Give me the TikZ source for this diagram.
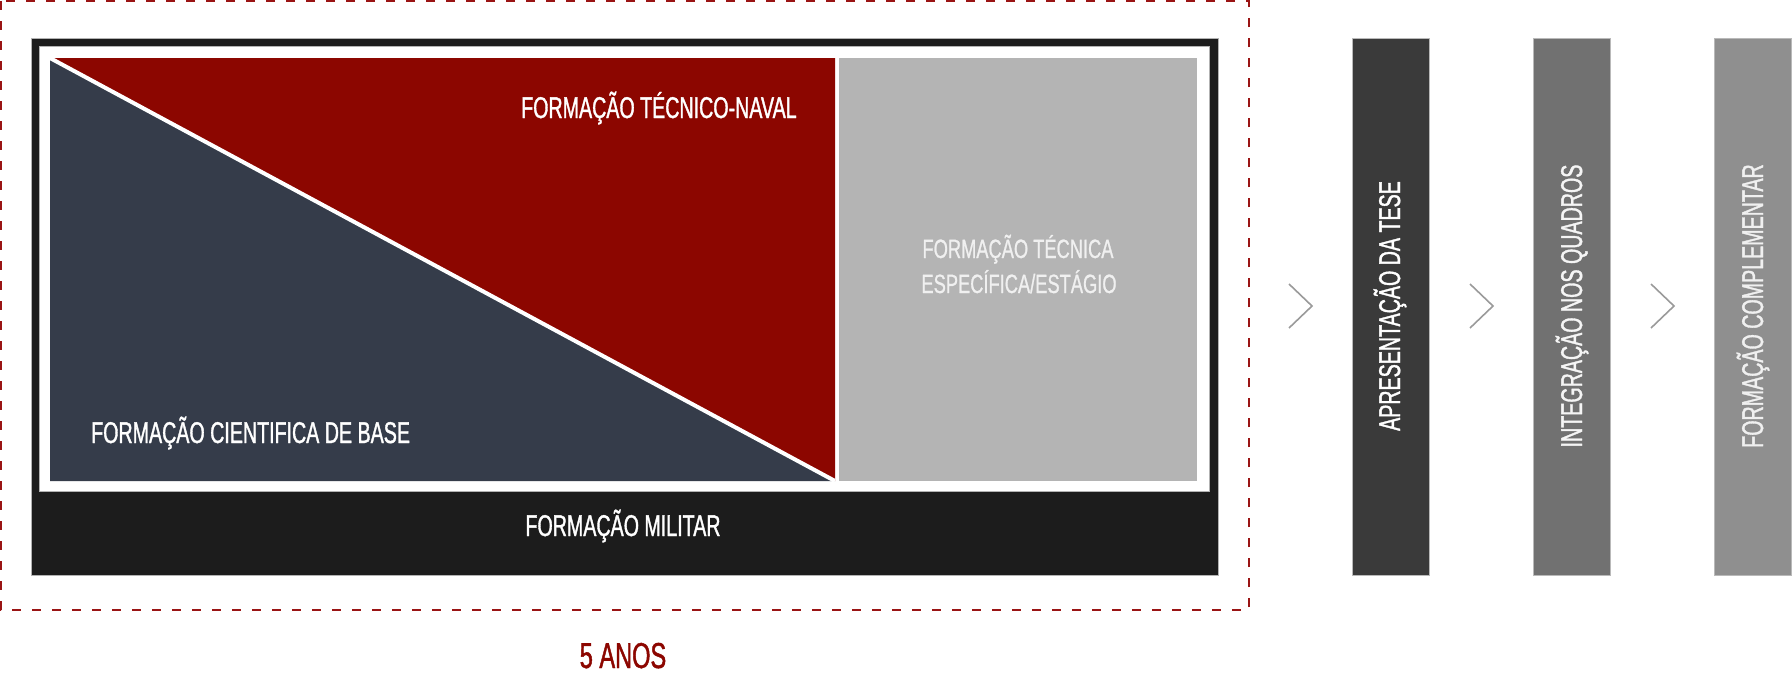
\documentclass[tikz,border=0pt]{standalone}
\usepackage{fontspec}
\newfontfamily\cond[FakeStretch=0.655,FakeBold=1.2]{Liberation Sans}
\newfontfamily\condg[FakeStretch=0.69,FakeBold=0.9]{Liberation Sans}
\definecolor{navred}{HTML}{8C0600}
\definecolor{dashred}{HTML}{9A1414}
\definecolor{slate}{HTML}{353C4A}
\definecolor{techgray}{HTML}{B4B4B4}
\definecolor{milblack}{HTML}{1C1C1C}
\definecolor{barA}{HTML}{3A3A3A}
\definecolor{barB}{HTML}{717171}
\definecolor{barC}{HTML}{8F8F8F}
\definecolor{chev}{HTML}{9A9A9A}
\tikzset{
  lbl/.style={text=white, inner sep=0pt, font=\cond\fontsize{30}{36}\selectfont},
  glbl/.style={text=white!94!black, inner sep=0pt, font=\condg\fontsize{26.5}{32}\selectfont},
  yrlbl/.style={text=navred, inner sep=0pt, font=\cond\fontsize{36}{42}\selectfont},
  barbox/.style={draw=gray!55, line width=1pt},
  chevline/.style={draw=chev, line width=1.6pt},
}
\begin{document}
\begin{tikzpicture}[x=1pt,y=-1pt]
\useasboundingbox (0,0) rectangle (1792,678);
\fill[white] (0,0) rectangle (1792,678);
% dashed 5-year frame
\draw[dashred, line width=2pt, dash pattern=on 9pt off 11pt] (1,1) rectangle (1249,610);
% military base box
\filldraw[fill=milblack, draw=gray!60, line width=1pt] (31,38) rectangle (1218,575);
\filldraw[fill=white, draw=gray!60, line width=1pt] (39,46) rectangle (1209,491);
% split area
\begin{scope}
\clip (50,58) rectangle (835,481);
\fill[navred] (50,58) -- (835,58) -- (835,481) -- cycle;
\fill[slate] (50,58) -- (50,481) -- (835,481) -- cycle;
\draw[white, line width=4pt] (50,58) -- (835,481);
\end{scope}
\fill[techgray] (839,58) rectangle (1197,481);
% labels
\node[lbl, anchor=base west] (naval) at (521,118) {FORMAÇÃO TÉCNICO-NAVAL};
\node[lbl, anchor=base west] (cient) at (91,443) {FORMAÇÃO CIENTIFICA DE BASE};
\node[glbl, anchor=base] (tec1) at (1018,258) {FORMAÇÃO TÉCNICA};
\node[glbl, anchor=base] (tec2) at (1019,293) {ESPECÍFICA/ESTÁGIO};
\node[lbl, anchor=base] (mil) at (623,536) {FORMAÇÃO MILITAR};
\node[yrlbl, anchor=base] (anos) at (623,668) {5 ANOS};
% later stages
\filldraw[barbox, fill=barA] (1352,38) rectangle (1429,575);
\filldraw[barbox, fill=barB] (1533,38) rectangle (1610,575);
\filldraw[barbox, fill=barC] (1714,38) rectangle (1791,575);
\node[lbl, rotate=90, anchor=base] (tese) at (1400,306) {APRESENTAÇÃO DA TESE};
\node[lbl, rotate=90, anchor=base, text=white!96!black] (quad) at (1582,306) {INTEGRAÇÃO NOS QUADROS};
\node[lbl, rotate=90, anchor=base, text=white!94!black] (compl) at (1763,306) {FORMAÇÃO COMPLEMENTAR};
% chevrons
\foreach \cx [count=\i] in {1289,1470,1651} {
  \coordinate (c\i a) at (\cx,284);
  \coordinate (c\i b) at (\cx+23,306);
  \coordinate (c\i c) at (\cx,328);
  \draw[chevline] (c\i a) -- (c\i b) -- (c\i c);
}
\end{tikzpicture}
\end{document}
